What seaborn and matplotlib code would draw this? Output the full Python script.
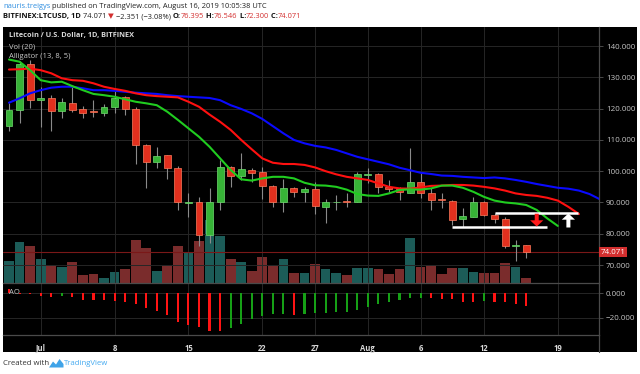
import numpy as np
import matplotlib
matplotlib.use("Agg")
import matplotlib.pyplot as plt
import matplotlib.transforms as mtransforms
from matplotlib.patches import Rectangle, Polygon
from matplotlib.lines import Line2D
import seaborn as sns

# Estilo base
sns.set_style("dark")
plt.rcParams['font.family'] = ['Open Sans', 'DejaVu Sans']

# ---- Datos (dia 0 = 28 jun 2019, dia 49 = 16 ago 2019) ----
dias = list(range(50))
apertura = [114.4, 119.6, 134.2, 122.7, 123.5, 119.3, 121.7, 119.9, 119.0, 118.7,
            120.4, 123.6, 119.8, 108.4, 103.0, 105.1, 100.9, 89.8, 90.2, 79.6,
            90.0, 101.2, 98.5, 100.4, 99.6, 95.3, 90.1, 94.5, 93.2, 94.3,
            88.7, 90.0, 90.4, 90.2, 98.9, 99.0, 95.0, 94.3, 93.1, 96.4,
            92.9, 90.9, 90.6, 84.6, 85.4, 90.2, 86.0, 84.7, 76.1, 76.395]
maximo = [121.7, 135.3, 135.5, 127.0, 124.3, 123.3, 127.0, 120.9, 122.7, 121.5,
          125.9, 124.1, 120.6, 108.6, 107.6, 105.3, 101.6, 92.9, 91.6, 94.7,
          103.6, 101.6, 105.9, 100.9, 101.2, 95.5, 97.4, 95.0, 95.0, 96.6,
          91.1, 92.4, 93.1, 99.8, 100.9, 99.3, 97.2, 95.0, 107.3, 99.5,
          94.5, 92.9, 90.8, 88.1, 91.6, 90.4, 86.7, 85.2, 78.0, 76.546]
minimo = [112.9, 115.5, 120.1, 114.2, 112.9, 117.1, 119.0, 117.1, 117.2, 117.6,
          118.7, 117.9, 102.2, 94.5, 100.9, 97.5, 87.6, 85.3, 76.1, 77.1,
          87.6, 95.0, 97.2, 96.6, 91.1, 88.6, 87.0, 91.6, 90.2, 86.3,
          83.5, 87.6, 88.6, 90.0, 96.1, 92.9, 93.4, 90.8, 92.9, 91.3,
          87.6, 88.3, 82.8, 82.3, 85.2, 85.8, 83.5, 75.3, 71.4, 72.300]
cierre = [119.6, 134.2, 122.7, 123.5, 119.4, 122.2, 119.6, 118.7, 118.9, 120.4,
          123.5, 119.8, 108.4, 103.0, 104.9, 100.9, 90.0, 90.1, 79.6, 90.2,
          101.2, 98.6, 100.6, 99.5, 95.3, 90.1, 94.5, 93.3, 94.3, 88.8,
          90.0, 90.2, 90.3, 99.0, 99.1, 94.8, 94.3, 93.2, 96.6, 93.1,
          90.8, 90.8, 84.4, 85.7, 90.2, 86.0, 84.7, 76.1, 76.4, 74.071]
volumen = [65, 123, 110, 70, 53, 47, 63, 23, 27, 13,
           31, 41, 128, 105, 35, 50, 111, 92, 125, 187,
           140, 72, 62, 35, 78, 50, 72, 28, 28, 55,
           42, 28, 22, 45, 45, 40, 25, 40, 133, 47,
           53, 25, 43, 45, 32, 28, 29, 58, 47, 13]

# Alligator (desplazado hacia adelante)
dias_mandibula = list(range(58))
mandibula = [121.9, 123.3, 124.9, 125.9, 126.7, 127.0, 127.0, 126.5, 125.9, 125.9,
             125.7, 125.4, 125.1, 124.9, 124.7, 124.3, 124.0, 123.8, 123.6, 123.4,
             122.7, 121.1, 119.9, 118.5, 116.7, 114.4, 112.1, 110.0, 108.9, 108.1,
             107.6, 106.8, 105.7, 104.6, 103.8, 103.0, 102.2, 101.1, 100.3, 99.5,
             99.1, 98.6, 98.5, 98.2, 98.0, 97.8, 98.0, 97.7, 97.2, 96.6,
             95.9, 95.3, 94.7, 94.4, 93.8, 92.7, 91.0, 89.5]
dias_dientes = list(range(55))
dientes = [132.5, 132.6, 132.8, 132.3, 131.3, 129.7, 129.1, 128.9, 128.1, 127.0,
           126.3, 125.7, 124.9, 124.3, 124.0, 123.8, 123.6, 122.2, 120.6, 118.1,
           115.8, 113.2, 110.0, 107.0, 104.1, 102.7, 102.3, 102.3, 102.0, 101.2,
           100.0, 99.0, 98.2, 97.7, 97.2, 96.1, 95.0, 94.5, 94.4, 94.8,
           95.3, 95.4, 95.6, 95.6, 95.4, 95.0, 94.5, 93.8, 92.9, 92.4,
           92.1, 91.5, 90.6, 88.6, 86.3]
dias_labios = list(range(53))
labios = [135.7, 135.0, 132.3, 129.1, 128.4, 128.6, 127.2, 125.9, 124.7, 124.3,
          123.8, 123.0, 122.2, 121.7, 121.1, 119.0, 116.4, 113.7, 111.0, 107.8,
          104.1, 100.4, 97.4, 97.0, 97.7, 98.2, 98.2, 97.7, 96.3, 95.5,
          95.4, 95.0, 94.1, 92.7, 92.2, 92.1, 92.9, 94.0, 94.2, 94.1,
          94.5, 95.4, 95.4, 94.7, 93.4, 91.8, 90.6, 90.0, 89.7, 89.2,
          87.6, 84.9, 82.5]

# Awesome Oscillator
ao = [3.5, -0.5, -0.7, -2.2, -2.7, -2.2, -2.8, -5.5, -5.6, -5.7,
      -6.3, -7.1, -8.7, -11.7, -14.2, -18.0, -23.2, -26.0, -27.9, -30.6,
      -30.8, -28.1, -25.1, -21.0, -18.3, -17.2, -16.9, -17.8, -16.9, -16.4,
      -15.8, -15.6, -15.0, -13.7, -11.5, -9.0, -7.1, -5.5, -4.1, -3.9,
      -4.2, -4.4, -4.9, -6.8, -6.9, -6.3, -6.8, -7.1, -8.7, -10.4]

# Dibujos: soporte / resistencia y flechas
soporte = (82.05, 42.0, 51.0)
resistencia = (86.5, 46.0, 53.9)
flecha_baja = (50.0, 86.4, 82.3)
flecha_alta = (53.0, 82.0, 86.5)

# Ejes
pos_ticks = [3, 10, 17, 24, 29, 34, 39, 45, 52]
etiquetas_fecha = ['Jul', '8', '15', '22', '27', 'Aug', '6', '12', '19']
precios_ticks = [70, 80, 90, 100, 110, 120, 130, 140]
ultimo = 74.071

# ---- Figura ----
W, H = 640, 374
fig = plt.figure(figsize=(6.4, 3.74), dpi=100, facecolor='white')


def caja(x0, y0, x1, y1):
    return [x0 / W, 1 - y1 / H, (x1 - x0) / W, (y1 - y0) / H]


fig.add_artist(Rectangle((3 / W, 1 - 352 / H), 634 / W, 325 / H,
                         transform=fig.transFigure, facecolor='black',
                         edgecolor='none', zorder=0))

ax = fig.add_axes(caja(3, 27, 599, 282.7))
ax_vol = ax.twinx()
ax.set_zorder(ax_vol.get_zorder() + 1)
ax.patch.set_visible(False)
ax_vol.set_facecolor('black')
ax_ao = fig.add_axes(caja(3, 282.7, 599, 335), sharex=ax)
ax_ao.set_facecolor('black')

grid_color = '#262626'
sep_color = '#4a4a4a'

# Volumen
o = np.array(apertura)
c = np.array(cierre)
sube = c >= o
col_vol = np.where(sube, '#1c5c58', '#7a2c2c')
ax_vol.bar(dias, volumen, width=0.92, color=col_vol, edgecolor='none', lw=0, zorder=1)
ax_vol.set_ylim(0, 768)
ax_vol.set_yticks([])
for s in ax_vol.spines.values():
    s.set_visible(False)

# Velas
ax.vlines(dias, minimo, maximo, color='#8a8a8a', lw=0.8, zorder=2)
alto = np.maximum(np.abs(c - o), 0.25)
base = np.minimum(o, c)
ax.bar(dias, alto, bottom=base, width=0.66,
       color=np.where(sube, '#37b337', '#e2301e'),
       edgecolor=np.where(sube, '#6fdc6f', '#ff7a5c'), lw=0.5, zorder=3)

# Alligator
sns.lineplot(x=dias_mandibula, y=mandibula, ax=ax, color='#0a0aff', lw=1.5, zorder=4)
sns.lineplot(x=dias_dientes, y=dientes, ax=ax, color='#ff1010', lw=1.5, zorder=4)
sns.lineplot(x=dias_labios, y=labios, ax=ax, color='#20cc20', lw=1.5, zorder=4)

# Linea de ultimo precio
ax.axhline(ultimo, color='#7a1818', lw=0.8, zorder=1)

# Dibujos
for y, x0, x1 in (soporte, resistencia):
    ax.hlines(y, x0, x1, color='white', lw=1.8, zorder=5)
x, y0, y1 = flecha_baja
ax.arrow(x, y0, 0, y1 - y0, width=0.38, head_width=1.25, head_length=2.0,
         length_includes_head=True, color='#ff1a1a', lw=0, zorder=6)
x, y0, y1 = flecha_alta
ax.arrow(x, y0, 0, y1 - y0, width=0.38, head_width=1.25, head_length=2.0,
         length_includes_head=True, color='white', lw=0, zorder=6)

ax.set_xlim(-0.57, 55.9)
ax.set_ylim(64.35, 146.1)
ax.set_yticks(precios_ticks)
ax.set_yticklabels([f"{v:.3f}" for v in precios_ticks])
ax.yaxis.tick_right()
ax.tick_params(axis='y', colors='#555555', labelcolor='#c4c4c4', labelsize=5.8,
               length=3, width=0.6, pad=2)
ax.tick_params(axis='x', bottom=False, labelbottom=False)
ax.set_xticks(pos_ticks)
ax.grid(True, color=grid_color, lw=0.7, zorder=0)
ax.set_xlabel('')
ax.set_ylabel('')
for k, s in ax.spines.items():
    s.set_visible(k in ('right', 'bottom'))
    s.set_color(sep_color)
    s.set_linewidth(0.9)

# Etiqueta del ultimo precio
trans = mtransforms.blended_transform_factory(ax.transAxes, ax.transData)
ax.text(1.003, ultimo, '74.071', transform=trans, ha='left', va='center',
        fontsize=5.8, color='white', zorder=7, clip_on=False,
        bbox=dict(facecolor='#d32f2f', edgecolor='none', pad=1.2))

# Awesome Oscillator
ao_arr = np.array(ao)
prev = np.concatenate([[ao_arr[0] + 1], ao_arr[:-1]])
col_ao = np.where(ao_arr >= prev, '#16a016', '#ff1414')
ax_ao.bar(dias, ao, width=0.2, color=col_ao, edgecolor='none', lw=0, zorder=2)
ax_ao.set_ylim(-34.2, 8.7)
ax_ao.set_yticks([0, -20])
ax_ao.set_yticklabels(['0.000', '\u221220.000'])
ax_ao.yaxis.tick_right()
ax_ao.tick_params(axis='y', colors='#555555', labelcolor='#c4c4c4', labelsize=5.8,
                  length=3, width=0.6, pad=2)
ax_ao.set_xticks(pos_ticks)
ax_ao.set_xticklabels(etiquetas_fecha, fontweight='bold')
ax_ao.tick_params(axis='x', colors='#555555', labelcolor='#d8d8d8', labelsize=5.5,
                  length=2.5, width=0.6, pad=4)
ax_ao.grid(True, color=grid_color, lw=0.7, zorder=0)
for k, s in ax_ao.spines.items():
    s.set_visible(k in ('right', 'bottom'))
    s.set_color(sep_color)
    s.set_linewidth(0.9)

# Linea vertical del eje de precios hasta abajo
fig.add_artist(Line2D([599 / W, 599 / W], [1 - 352 / H, 1 - 335 / H],
                      transform=fig.transFigure, color=sep_color, lw=0.9))

# Leyendas internas
fig.text(9 / W, 1 - 36 / H, 'Litecoin / U.S. Dollar, 1D, BITFINEX', color='#d8d8d8',
         fontsize=5.3, fontweight='bold', va='center')
fig.text(9 / W, 1 - 46.5 / H, 'Vol (20)', color='#c8c8c8', fontsize=5.5, va='center')
fig.text(9 / W, 1 - 57 / H, 'Alligator (13, 8, 5)', color='#c8c8c8', fontsize=5.5,
         va='center')
fig.text(9 / W, 1 - 293 / H, 'AO', color='#c8c8c8', fontsize=5.5, va='center')

# Cabecera con tramos de colores
render = fig.canvas.get_renderer()


def tramos(x, y, partes, size=5.4):
    for s, color, peso in partes:
        t = fig.text(x / W, 1 - y / H, s, color=color, fontsize=size,
                     fontweight=peso, va='center', ha='left')
        x += t.get_window_extent(renderer=render).width


rojo = '#d32f2f'
tramos(3, 6.7, [('nauris.treigys', '#2f8ee0', 'normal'),
                (' published on TradingView.com, August 16, 2019 10:05:38 UTC', '#222222', 'normal')])
tramos(3, 16.7, [('BITFINEX:LTCUSD, 1D', '#111111', 'bold'),
                 (' 74.071 ', '#222222', 'normal'),
                 ('\u25bc', rojo, 'normal'),
                 (' \u22122.351 (\u22123.08%) ', '#222222', 'normal'),
                 ('O:', '#111111', 'bold'), ('76.395', rojo, 'normal'),
                 (' H:', '#111111', 'bold'), ('76.546', rojo, 'normal'),
                 (' L:', '#111111', 'bold'), ('72.300', rojo, 'normal'),
                 (' C:', '#111111', 'bold'), ('74.071', rojo, 'normal')])

# Pie: Created with TradingView
fig.text(3 / W, 1 - 363.5 / H, 'Created with', color='#333333', fontsize=5.6, va='center')
logo = [(49, 367.5), (53, 361.5), (56, 364.5), (59.5, 359), (63.5, 364), (63.5, 367.5)]
fig.add_artist(Polygon([(px / W, 1 - py / H) for px, py in logo], closed=True,
                       transform=fig.transFigure, facecolor='#3fa3e8', edgecolor='none'))
fig.text(64 / W, 1 - 363.5 / H, 'TradingView', color='#45aaf0', fontsize=5.6, va='center')

fig.savefig('out.png', dpi=100, facecolor='white')
